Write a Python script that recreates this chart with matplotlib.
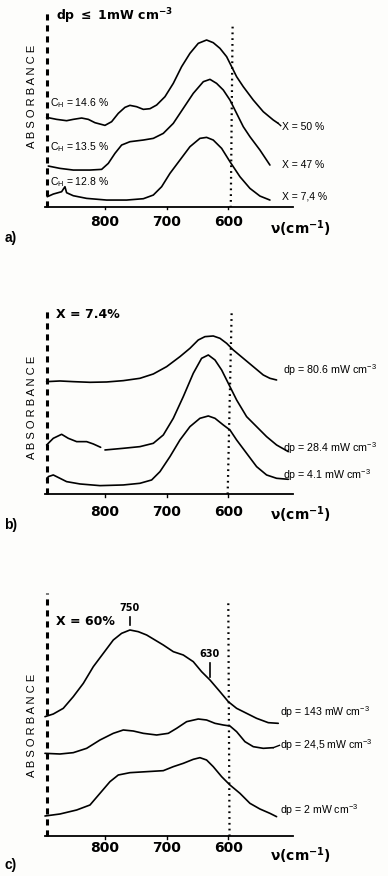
import numpy as np
import matplotlib
matplotlib.use('Agg')
import matplotlib.pyplot as plt

plt.rcParams['font.family'] = ['Liberation Sans', 'DejaVu Sans']
plt.rcParams['mathtext.default'] = 'regular'

# ---- panel a) : dp < 1 mW cm-3 ----
a_top_w = [894.6, 878.4, 862.2, 851.4, 837.8, 827.0, 816.2, 800.0, 789.2, 778.4, 767.6, 759.5, 748.7,
           737.8, 727.0, 716.2, 702.7, 689.2, 675.7, 662.2, 648.7, 635.2, 624.4, 613.5, 602.7,
           594.6, 586.5, 575.7, 559.5, 543.3, 527.0, 519.0]
a_top_A = [2.68, 2.62, 2.58, 2.62, 2.66, 2.62, 2.52, 2.44, 2.55, 2.80, 2.98, 3.04, 3.00,
           2.92, 2.94, 3.05, 3.30, 3.70, 4.20, 4.60, 4.90, 5.00, 4.92, 4.75, 4.50,
           4.20, 3.90, 3.60, 3.20, 2.85, 2.60, 2.50]
a_mid_w = [891.9, 873.0, 851.4, 824.3, 805.4, 794.6, 783.8, 773.0, 759.5, 737.8, 721.6, 705.4, 689.2,
           673.0, 656.8, 640.5, 629.7, 619.0, 608.1, 597.3, 586.5, 575.7, 564.9, 548.7, 532.5]
a_mid_A = [1.22, 1.15, 1.10, 1.10, 1.12, 1.30, 1.60, 1.85, 1.95, 2.00, 2.05, 2.20, 2.50,
           2.95, 3.40, 3.75, 3.82, 3.70, 3.50, 3.20, 2.80, 2.40, 2.10, 1.70, 1.25]
a_bot_w = [893.5, 883.8, 870.3, 864.9, 862.2, 851.4, 829.7, 797.3, 764.9, 737.8, 721.6, 708.1, 694.6,
           678.4, 662.2, 646.0, 635.2, 624.4, 610.8, 597.3, 581.1, 564.9, 548.7, 532.5]
a_bot_A = [0.30, 0.38, 0.45, 0.60, 0.42, 0.33, 0.25, 0.20, 0.20, 0.24, 0.35, 0.60, 1.00,
           1.40, 1.80, 2.05, 2.08, 2.00, 1.75, 1.35, 0.90, 0.55, 0.32, 0.20]
a_right = ['X = 50 %', 'X = 47 %', 'X = 7,4 %']
a_left = ['C$_{H}$ = 14.6 %', 'C$_{H}$ = 13.5 %', 'C$_{H}$ = 12.8 %']

# ---- panel b) : X = 7.4 % ----
b_top_w = [894.6, 873.0, 851.4, 824.3, 797.3, 770.3, 743.3, 721.6, 700.0, 678.4, 662.2, 648.7, 637.9,
           624.4, 613.5, 602.7, 591.9, 575.7, 559.5, 543.3, 532.5, 521.7]
b_top_A = [3.37, 3.39, 3.37, 3.35, 3.36, 3.40, 3.47, 3.60, 3.82, 4.12, 4.37, 4.62, 4.72,
           4.74, 4.67, 4.52, 4.32, 4.07, 3.82, 3.57, 3.47, 3.42]
b_mid_w = [894.6, 883.8, 870.3, 859.5, 845.9, 829.7, 818.9, 807.0, 803.5, 800.0, 770.3, 743.3, 721.6,
           705.4, 689.2, 673.0, 656.8, 643.3, 632.4, 621.6, 610.8, 600.0, 586.5, 570.3, 554.1,
           537.9, 521.7, 502.7]
b_mid_A = [1.47, 1.67, 1.79, 1.67, 1.57, 1.57, 1.50, 1.40, np.nan, 1.32, 1.37, 1.42, 1.52,
           1.77, 2.27, 2.92, 3.62, 4.07, 4.17, 4.02, 3.72, 3.32, 2.82, 2.32, 2.02,
           1.72, 1.47, 1.27]
b_bot_w = [894.6, 891.9, 883.8, 873.0, 862.2, 840.5, 808.1, 770.3, 743.3, 724.3, 710.8, 694.6, 678.4,
           662.2, 646.0, 632.4, 621.6, 608.1, 597.3, 586.5, 570.3, 554.1, 537.9, 521.7, 502.7]
b_bot_A = [0.42, 0.52, 0.57, 0.47, 0.37, 0.30, 0.25, 0.27, 0.32, 0.42, 0.67, 1.12, 1.62,
           2.02, 2.27, 2.34, 2.27, 2.07, 1.92, 1.62, 1.22, 0.82, 0.57, 0.47, 0.44]
b_right = ['dp = 80.6 mW cm$^{-3}$', 'dp = 28.4 mW cm$^{-3}$', 'dp = 4.1 mW cm$^{-3}$']

# ---- panel c) : X = 60 % ----
c_top_w = [897.3, 883.8, 867.6, 851.4, 835.1, 818.9, 802.7, 786.5, 773.0, 759.5, 746.0, 732.4, 718.9,
           705.4, 689.2, 673.0, 656.8, 643.3, 629.7, 613.5, 600.0, 586.5, 570.3, 554.1, 535.2, 519.0]
c_top_A = [3.58, 3.66, 3.83, 4.18, 4.58, 5.08, 5.48, 5.88, 6.08, 6.18, 6.13, 6.03, 5.88,
           5.73, 5.53, 5.43, 5.23, 4.93, 4.68, 4.33, 4.03, 3.83, 3.68, 3.53, 3.40, 3.38]
c_mid_w = [897.3, 873.0, 851.4, 829.7, 808.1, 786.5, 770.3, 754.1, 737.8, 716.2, 697.3, 683.8, 667.6,
           648.7, 635.2, 621.6, 608.1, 597.3, 586.5, 573.0, 559.5, 543.3, 527.0]
c_mid_A = [2.48, 2.46, 2.50, 2.63, 2.88, 3.08, 3.18, 3.15, 3.08, 3.03, 3.08, 3.23, 3.43,
           3.51, 3.48, 3.38, 3.33, 3.30, 3.13, 2.83, 2.68, 2.63, 2.65]
c_bot_w = [897.3, 873.0, 845.9, 824.3, 808.1, 791.9, 778.4, 759.5, 732.4, 705.4, 689.2, 673.0, 656.8,
           646.0, 635.2, 624.4, 610.8, 597.3, 581.1, 564.9, 548.7, 532.5, 521.7]
c_bot_A = [0.60, 0.66, 0.78, 0.93, 1.28, 1.63, 1.83, 1.90, 1.93, 1.96, 2.08, 2.18, 2.30,
           2.35, 2.28, 2.08, 1.78, 1.53, 1.28, 0.98, 0.81, 0.68, 0.58]
c_right = ['dp = 143 mW cm$^{-3}$', 'dp = 24,5 mW cm$^{-3}$', 'dp = 2 mW cm$^{-3}$']
c_marks = [750, 630]
c_marks_w = [759.5, 629.7]

ticks = [800, 700, 600]

fig = plt.figure(figsize=(3.88, 8.76), dpi=100)
fig.patch.set_facecolor('#fdfdfb')


def make_panel(rect, ytop, dash_top, dot_top, dot_w, tick_y, nu_y, letter, letter_y, abs_y):
    ax = fig.add_axes(rect)
    ax.set_xlim(900, 480)
    ax.set_ylim(-0.3, ytop)
    ax.axis('off')
    # baseline with small ticks
    ax.plot([897, 495], [0, 0], color='black', lw=1.3)
    for t in ticks:
        ax.plot([t, t], [0, -0.08], color='black', lw=1.0)
        ax.text(t, tick_y, str(t), ha='center', va='center', fontsize=10,
                fontweight='bold', family='DejaVu Sans', clip_on=False)
    ax.text(532, nu_y, r'$\mathbf{\nu}$(cm$^{-1}$)', ha='left', va='center', fontsize=10,
            fontweight='bold', family='DejaVu Sans', clip_on=False)
    ax.plot([894, 894], [0, dash_top], color='black', lw=2.2, linestyle=(0, (2.0, 1.6)))
    ax.plot(dot_w, [dot_top, 0], color='black', lw=1.6, linestyle=(0, (0.8, 1.8)))
    ax.text(918, abs_y, 'A B S O R B A N C E', rotation=90, ha='center',
            va='center', fontsize=8, clip_on=False)
    ax.text(963, letter_y, letter, ha='left', va='center', fontsize=10, fontweight='bold',
            clip_on=False)
    return ax


def curve(ax, w, A):
    ax.plot(w, A, color='black', lw=1.2, solid_joinstyle='round', solid_capstyle='round',
            clip_on=False)


# panel a
ax = make_panel([0.1116, 0.7526, 0.6675, 0.2474], 6.2, 5.8, 5.4, [593, 596],
                -0.46, -0.65, 'a)', -0.95, 3.3)
curve(ax, a_top_w, a_top_A)
curve(ax, a_mid_w, a_mid_A)
curve(ax, a_bot_w, a_bot_A)
for lab, y in zip(a_right, [2.4, 1.25, 0.3]):
    ax.text(513, y, lab, fontsize=7.5, va='center', ha='left', clip_on=False)
for lab, y in zip(a_left, [3.1, 1.8, 0.75]):
    ax.text(889, y, lab, fontsize=7.5, va='center', ha='left')
ax.plot([519, 515], [2.5, 2.43], color='black', lw=1.0)
ax.text(880, 5.7, r'dp $\leq$ 1mW cm$^{-3}$', fontsize=9, fontweight='bold',
        va='center', ha='left', family='DejaVu Sans')

# panel b
ax = make_panel([0.1116, 0.4247, 0.6675, 0.2397], 6.0, 5.57, 5.42, [594.6, 601],
                -0.53, -0.63, 'b)', -0.93, 2.6)
curve(ax, b_top_w, b_top_A)
curve(ax, b_mid_w, b_mid_A)
curve(ax, b_bot_w, b_bot_A)
for lab, y in zip(b_right, [3.72, 1.37, 0.57]):
    ax.text(511, y, lab, fontsize=7.7, va='center', ha='left', clip_on=False)
ax.text(880, 5.37, 'X = 7.4%', fontsize=9, fontweight='bold', va='center',
        ha='left', family='DejaVu Sans')

# panel c
ax = make_panel([0.1116, 0.03425, 0.6675, 0.2968], 7.5, 7.28, 6.98, [600, 598],
                -0.35, -0.6, 'c)', -0.87, 3.33)
curve(ax, c_top_w, c_top_A)
curve(ax, c_mid_w, c_mid_A)
curve(ax, c_bot_w, c_bot_A)
for lab, y in zip(c_right, [3.73, 2.73, 0.78]):
    ax.text(516, y, lab, fontsize=7.6, va='center', ha='left', clip_on=False)
ax.plot([527, 517], [2.65, 2.72], color='black', lw=1.0)
ax.text(880, 6.43, 'X = 60%', fontsize=9, fontweight='bold', va='center',
        ha='left', family='DejaVu Sans')
for m, mw, y0, y1 in zip(c_marks, c_marks_w, [6.33, 4.78], [6.58, 5.18]):
    ax.plot([mw, mw], [y0, y1], color='black', lw=1.2)
    ax.text(mw, y1 + 0.12, str(m), fontsize=7, ha='center', va='bottom',
            fontweight='bold', family='DejaVu Sans')

fig.savefig('out.png', dpi=100, facecolor=fig.get_facecolor())
